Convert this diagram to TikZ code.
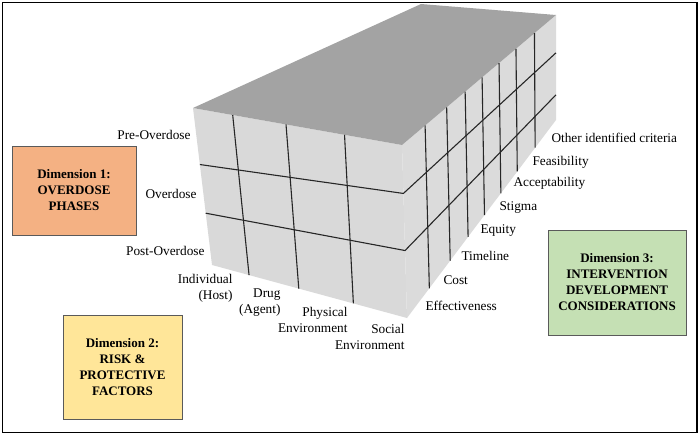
\documentclass[tikz,border=0pt]{standalone}
\usepackage{fontspec}
\setmainfont{Liberation Serif}
\newfontfamily\timesfont{Liberation Serif}
\usetikzlibrary{positioning,calc}
\definecolor{phaseorange}{RGB}{244,177,131}
\definecolor{riskyellow}{RGB}{255,230,153}
\definecolor{criteriagreen}{RGB}{197,224,180}
\definecolor{boxgray}{RGB}{90,90,90}
\definecolor{cubetop}{RGB}{163,163,163}
\definecolor{cubeface}{RGB}{217,217,217}

\begin{document}
\begin{tikzpicture}[x=1pt, y=-1pt, line width=1pt, black]
    \useasboundingbox (0,0) rectangle (700,436);

    %Frame
    \draw[line width=1.5pt] (2.5,2.5) rectangle (697,432.5);

    %Cube corners
    \coordinate (frontTopLeft)     at (193,108);
    \coordinate (frontTopRight)    at (402,145);
    \coordinate (frontBottomRight) at (407,318);
    \coordinate (frontBottomLeft)  at (212,265);
    \coordinate (backTopLeft)      at (421,4);
    \coordinate (backTopRight)     at (556,15);
    \coordinate (backBottomRight)  at (556,120);

    %Faces
    \fill[cubeface] (frontTopLeft) -- (frontTopRight) -- (frontBottomRight) -- (frontBottomLeft) -- cycle;
    \fill[cubeface!95!white] (frontTopRight) -- (backTopRight) -- (backBottomRight) -- (frontBottomRight) -- cycle;
    \fill[cubetop] (frontTopLeft) -- (backTopLeft) -- (backTopRight) -- (frontTopRight) -- cycle;

    %Grid
    \begin{scope}[line width=1.1pt, black!85]
    \draw ($(frontTopLeft)!0.19!(frontTopRight)$)  -- ($(frontBottomLeft)!0.19!(frontBottomRight)$);
    \draw ($(frontTopLeft)!0.445!(frontTopRight)$) -- ($(frontBottomLeft)!0.445!(frontBottomRight)$);
    \draw ($(frontTopLeft)!0.725!(frontTopRight)$) -- ($(frontBottomLeft)!0.725!(frontBottomRight)$);
    \draw ($(frontTopRight)!0.15!(backTopRight)$) -- ($(frontBottomRight)!0.15!(backBottomRight)$);
    \draw ($(frontTopRight)!0.29!(backTopRight)$) -- ($(frontBottomRight)!0.29!(backBottomRight)$);
    \draw ($(frontTopRight)!0.41!(backTopRight)$) -- ($(frontBottomRight)!0.41!(backBottomRight)$);
    \draw ($(frontTopRight)!0.52!(backTopRight)$) -- ($(frontBottomRight)!0.52!(backBottomRight)$);
    \draw ($(frontTopRight)!0.63!(backTopRight)$) -- ($(frontBottomRight)!0.63!(backBottomRight)$);
    \draw ($(frontTopRight)!0.74!(backTopRight)$) -- ($(frontBottomRight)!0.74!(backBottomRight)$);
    \draw ($(frontTopRight)!0.86!(backTopRight)$) -- ($(frontBottomRight)!0.86!(backBottomRight)$);
    \draw ($(frontTopLeft)!0.36!(frontBottomLeft)$) -- ($(frontTopRight)!0.28!(frontBottomRight)$) -- ($(backTopRight)!0.36!(backBottomRight)$);
    \draw ($(frontTopLeft)!0.67!(frontBottomLeft)$) -- ($(frontTopRight)!0.61!(frontBottomRight)$) -- ($(backTopRight)!0.76!(backBottomRight)$);
    \end{scope}

    %Dimension boxes
    \begin{scope}[every node/.style={rectangle, draw=boxgray, line width=0.8pt, align=center, font=\timesfont\fontsize{13}{16}\selectfont\bfseries}]
    \node (phases)    [fill=phaseorange,   minimum width=124pt, minimum height=89pt]  at (74,190.5)  {Dimension 1:\\OVERDOSE\\PHASES};
    \node (factors)   [fill=riskyellow,    minimum width=119pt, minimum height=104pt] at (122.5,367) {Dimension 2:\\RISK \&\\PROTECTIVE\\FACTORS};
    \node (criteria)  [fill=criteriagreen, minimum width=138pt, minimum height=105pt] at (617,282.5) {Dimension 3:\\INTERVENTION\\DEVELOPMENT\\CONSIDERATIONS};
    \end{scope}

    % Text labels (phases, left of the cube)
    \begin{scope}[every node/.style={inner sep=0pt, anchor=east, align=right, font=\timesfont\fontsize{13.3}{16}\selectfont}]
    \node (preOverdose)  at (191,135) {Pre-Overdose};
    \node (overdose)     at (197,194) {Overdose};
    \node (postOverdose) at (205,251) {Post-Overdose};
    \node (host)         at (233,288) {Individual\\(Host)};
    \node (agent)        at (281,303) {Drug\\(Agent)};
    \node (physicalEnv)  at (348,320) {Physical\\Environment};
    \node (socialEnv)    at (405,337) {Social\\Environment};
    \end{scope}

    % Text labels (criteria, right of the cube)
    \begin{scope}[every node/.style={inner sep=0pt, anchor=west, font=\timesfont\fontsize{13.3}{16}\selectfont}]
    \node (other)         at (551,138) {Other identified criteria};
    \node (feasibility)   at (532,162) {Feasibility};
    \node (acceptability) at (513,183) {Acceptability};
    \node (stigma)        at (499,208) {Stigma};
    \node (equity)        at (480,231) {Equity};
    \node (timeline)      at (461,256) {Timeline};
    \node (cost)          at (443,280) {Cost};
    \node (effectiveness) at (425,306) {Effectiveness};
    \end{scope}
\end{tikzpicture}
\end{document}
